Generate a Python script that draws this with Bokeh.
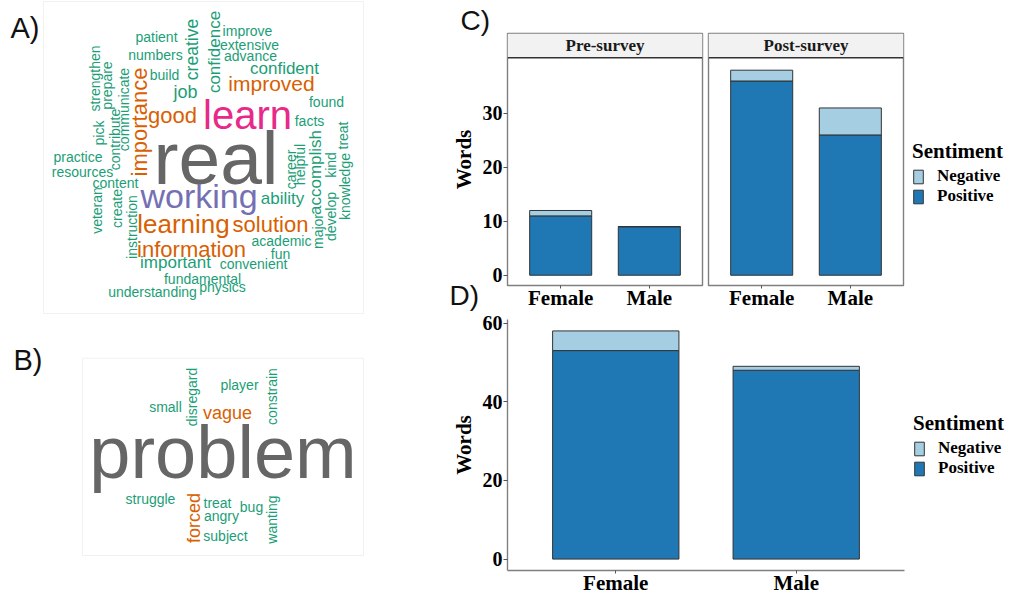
from bokeh.plotting import figure
from bokeh.layouts import row, column
from bokeh.models import (Range1d, FixedTicker, Legend, LegendItem, Span, Title,
                          ColumnDataSource)
from bokeh.core.properties import value, field
from bokeh.embed import file_html
from bokeh.resources import INLINE
import math

# ---------------- data ----------------
genders = ["Female", "Male"]
sentiments = ["Positive", "Negative"]
facet_titles = ["Pre-survey", "Post-survey"]
pre_positive = [11, 9]
pre_negative = [1, 0]
post_positive = [36, 26]
post_negative = [2, 5]
all_positive = [53, 48]
all_negative = [5, 1]
c_ticks = [0, 10, 20, 30]
d_ticks = [0, 20, 40, 60]

# word cloud A (pre-survey positive words)
wa_words = ["patient", "improve", "extensive", "numbers", "advance", "build", "confident",
            "improved", "job", "found", "good", "learn", "facts", "real", "practice",
            "resources", "content", "working", "ability", "learning", "solution", "academic",
            "information", "fun", "important", "convenient", "fundamental", "physics",
            "understanding",
            "creative", "confidence", "strengthen", "prepare", "communicate", "importance",
            "contribute", "pick", "veteran", "create", "instruction", "career", "helpful",
            "accomplish", "major", "kind", "develop", "treat", "knowledge"]
wa_rank = [4, 4, 4, 4, 4, 4, 4, 3, 4, 4, 3, 1, 4, 0, 4, 4, 4, 2, 4, 3, 3, 4, 3, 4, 4, 4, 4, 4, 4,
           4, 4, 4, 4, 4, 3, 4, 4, 4, 4, 4, 4, 4, 4, 4, 4, 4, 4, 4]
# word cloud B (negative words)
wb_words = ["small", "player", "vague", "problem", "struggle", "treat", "bug", "angry", "subject",
            "disregard", "constrain", "forced", "wanting"]
wb_rank = [4, 4, 3, 0, 4, 4, 4, 4, 4, 4, 4, 3, 4]

# ---------------- layout of the word clouds (pixel positions; baseline for
# horizontal words, centre for vertical ones) ----------------
wa_x = [156, 247, 249, 155, 250, 164, 284, 271, 185, 326, 172, 247, 309, 215.5, 77.5, 82, 115,
        198.5, 282, 183, 270, 281, 191, 280, 175, 253, 202, 222, 152,
        191.5, 214, 94, 106.5, 123.5, 139, 114, 98, 96.5, 116.5, 131, 290, 299, 315, 317, 330,
        330, 342, 344]
wa_y = [41.5, 35.5, 49, 59, 60.5, 79, 74, 90, 97.5, 106, 123, 128, 125, 183, 161, 176.5, 187,
        207, 204, 233, 231.5, 245.5, 256.5, 258, 267.5, 268, 283, 291, 296.5,
        49, 51.5, 78, 85, 109, 121.5, 139, 132.5, 210, 208, 226.5, 169, 164, 172, 231, 164.5,
        216, 135, 186]
wa_size = [14, 14, 14, 14, 14, 14, 17, 21, 18, 14, 22, 40, 14, 75, 14, 14, 14, 34, 17, 26, 22,
           14, 22, 14, 17, 14, 14, 14, 14,
           17.5, 17, 14, 14, 14, 22, 14, 14, 14, 14, 14, 14, 14, 17, 14, 14, 14, 14, 14]
wa_vert = [0] * 29 + [1] * 19

wb_x = [165, 239, 227, 222.5, 150, 217, 251, 221, 225, 191, 271, 193, 271]
wb_y = [411, 389, 419, 478, 503, 507, 511.5, 520.5, 540, 396.5, 396, 517.5, 519]
wb_size = [14, 14, 18, 74, 14, 14, 14, 14, 14, 14, 14, 18, 14]
wb_vert = [0] * 9 + [1] * 4

RANK_COLORS = ["#666666", "#E7298A", "#7570B3", "#D95F02", "#1B9E77"]
C_POS = "#1F78B4"
C_NEG = "#A6CEE3"
SERIF = "Liberation Serif"
SANS = "Liberation Sans"
MID = 0.3465  # distance baseline -> middle of the em box, in font sizes

# ---------------- word clouds figure ----------------
wc = figure(width=448, height=595, x_range=Range1d(0, 448), y_range=Range1d(595, 0),
            x_axis_location=None, y_axis_location=None, output_backend="svg",
            toolbar_location=None, min_border=0, outline_line_color=None)
wc.grid.visible = False

# faint panel frames
wc.quad(left=[43, 82], right=[363, 363], top=[1, 357.7], bottom=[313, 555],
        fill_color=None, line_color="#f1f1f1", line_width=1)


def add_cloud(words, ranks, xs, ys, sizes, verts):
    for vert in (0, 1):
        idx = [i for i in range(len(words)) if verts[i] == vert]
        src = ColumnDataSource(dict(
            x=[xs[i] for i in idx],
            y=[ys[i] if vert else ys[i] - MID * sizes[i] for i in idx],
            text=[words[i] for i in idx],
            fs=["%gpx" % sizes[i] for i in idx],
            color=[RANK_COLORS[ranks[i]] for i in idx]))
        wc.text(x="x", y="y", text="text", source=src, text_font=value(SANS),
                text_font_size=field("fs"), text_color="color", text_align="center",
                text_baseline="middle", angle=math.pi / 2 if vert else 0)


add_cloud(wa_words, wa_rank, wa_x, wa_y, wa_size, wa_vert)
add_cloud(wb_words, wb_rank, wb_x, wb_y, wb_size, wb_vert)

wc.text(x=[10, 13], y=[37.5 - MID * 29, 370 - MID * 29], text=["A)", "B)"],
        text_font=value(SANS), text_font_size="29px", text_color="#111111",
        text_baseline="middle")


# ---------------- helpers ----------------
def style_bottom_axis(ax):
    ax.ticker = FixedTicker(ticks=[i + 1 for i in range(len(genders))])
    ax.major_label_overrides = {i + 1: g for i, g in enumerate(genders)}
    ax.major_label_text_font = SERIF
    ax.major_label_text_font_style = "bold"
    ax.major_label_text_font_size = "21px"
    ax.major_label_text_color = "#000000"
    ax.major_label_standoff = -3
    ax.major_tick_out = 3
    ax.major_tick_in = 0
    ax.minor_tick_line_color = None
    ax.major_tick_line_color = "#555555"


def style_left_axis(ax, ticks):
    ax.ticker = FixedTicker(ticks=ticks)
    ax.major_label_text_font = SERIF
    ax.major_label_text_font_style = "bold"
    ax.major_label_text_font_size = "20px"
    ax.major_label_text_color = "#000000"
    ax.major_label_standoff = 1
    ax.major_tick_out = 4
    ax.major_tick_in = 0
    ax.minor_tick_line_color = None
    ax.major_tick_line_color = "#555555"
    ax.axis_label = "Words"
    ax.axis_label_text_font = SERIF
    ax.axis_label_text_font_style = "bold"
    ax.axis_label_text_font_size = "21px"
    ax.axis_label_text_color = "#000000"
    ax.axis_label_standoff = 4


def add_bars(p, pos, neg):
    src = ColumnDataSource(dict(x=[i + 1 for i in range(len(genders))], Positive=pos,
                                Negative=neg))
    rs = p.vbar_stack(sentiments, x="x", width=0.7, source=src, fill_color=[C_POS, C_NEG],
                      line_color="#333333", line_width=1)
    return rs


def add_legend(p, rs, loc):
    items = [LegendItem(label=s, renderers=[r]) for s, r in zip(sentiments, rs)][::-1]
    lg = Legend(items=items, title="Sentiment", location=loc, orientation="vertical",
                margin=0, padding=0, spacing=0, glyph_width=12, glyph_height=17,
                label_height=15, label_standoff=13, title_standoff=2,
                border_line_color=None, background_fill_alpha=0,
                label_text_font=SERIF, label_text_font_style="bold",
                label_text_font_size="17px", label_text_color="#000000",
                title_text_font=SERIF, title_text_font_style="bold",
                title_text_font_size="21px", title_text_color="#000000")
    p.add_layout(lg, "right")


def facet(pos, neg, title, first):
    p = figure(frame_width=195, frame_height=252, x_range=Range1d(0.4, 2.6),
               y_range=Range1d(-1.9, 44.8), output_backend="svg", toolbar_location=None,
               y_axis_location="left" if first else None,
               min_border_top=33, min_border_bottom=27,
               min_border_left=53 if first else 3, min_border_right=3 if first else 110,
               outline_line_color="#7f7f7f", outline_line_width=1.4,
               background_fill_color="white")
    p.grid.visible = False
    style_bottom_axis(p.xaxis[0])
    p.xaxis[0].axis_line_color = None
    if first:
        style_left_axis(p.yaxis[0], c_ticks)
        p.yaxis[0].axis_line_color = None
    # facet strip
    p.quad(left=[0.4], right=[2.6], bottom=[40.3], top=[44.8], fill_color="#f2f2f2",
           line_color=None)
    p.add_layout(Span(location=40.3, dimension="width", line_color="#333333",
                      line_width=1.6))
    p.text(x=[1.5], y=[42.55], text=[title], text_align="center", text_baseline="middle",
           text_font=value(SERIF), text_font_style="bold", text_font_size="17px",
           text_color="#1a1a1a")
    rs = add_bars(p, pos, neg)
    return p, rs


c1, _ = facet(pre_positive, pre_negative, facet_titles[0], True)
c2, rs2 = facet(post_positive, post_negative, facet_titles[1], False)
add_legend(c2, rs2, (9, 79))

# panel letters
c1.add_layout(Title(text="C)", align="left", offset=-47, standoff=-8, vertical_align="top",
                    text_font=SANS, text_font_style="normal",
                    text_font_size="28px", text_color="#111111"), "above")
c1.add_layout(Title(text="D)", align="left", offset=-58, standoff=-66, vertical_align="top",
                    text_font=SANS, text_font_style="normal",
                    text_font_size="28px", text_color="#111111"), "below")

# ---------------- overall chart D ----------------
d = figure(frame_width=397, frame_height=251, x_range=Range1d(0.4, 2.6),
           y_range=Range1d(-2.9, 60.9), output_backend="svg", toolbar_location=None,
           min_border_top=7, min_border_bottom=25, min_border_left=52, min_border_right=110,
           outline_line_color=None)
d.grid.visible = False
style_bottom_axis(d.xaxis[0])
style_left_axis(d.yaxis[0], d_ticks)
for ax in (d.xaxis[0], d.yaxis[0]):
    ax.axis_line_color = "#7f7f7f"
    ax.axis_line_width = 1.4
rsd = add_bars(d, all_positive, all_negative)
add_legend(d, rsd, (9, 92))

layout = row(wc, column(row(c1, c2), d))
open("out.html", "w").write(file_html(layout, INLINE))
